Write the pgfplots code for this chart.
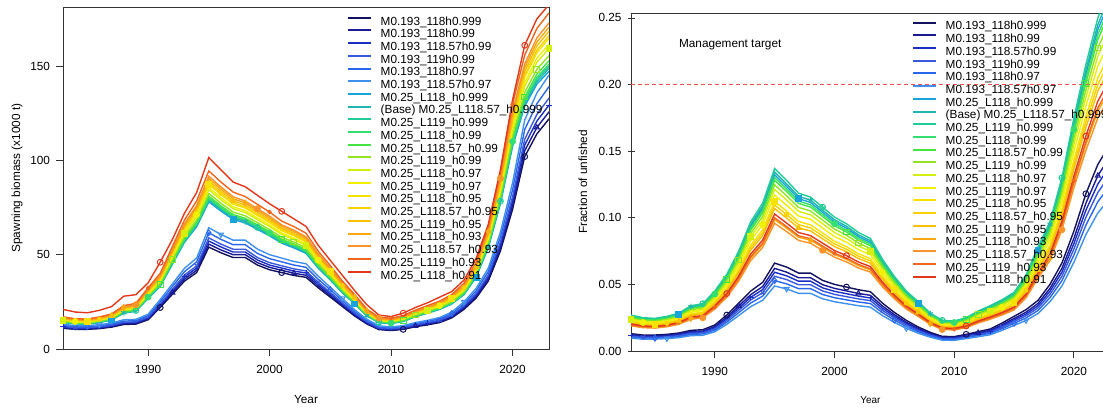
\documentclass[border=0pt]{standalone}
\usepackage{fontspec}
\setmainfont{Liberation Sans}
\usepackage{pgfplots}
\usepackage{pgfplotstable}
\pgfplotsset{compat=1.18}
\usetikzlibrary{plotmarks}

% run colours, dark blue through red
\definecolor{c1}{HTML}{12125E}
\definecolor{c2}{HTML}{1A1A92}
\definecolor{c3}{HTML}{1A2EC4}
\definecolor{c4}{HTML}{3A58DC}
\definecolor{c5}{HTML}{2A66EC}
\definecolor{c6}{HTML}{3E90EC}
\definecolor{c7}{HTML}{18A4DA}
\definecolor{c8}{HTML}{22B4AE}
\definecolor{c9}{HTML}{22CC98}
\definecolor{c10}{HTML}{34DE70}
\definecolor{c11}{HTML}{44E444}
\definecolor{c12}{HTML}{92E422}
\definecolor{c13}{HTML}{D4EE10}
\definecolor{c14}{HTML}{F0F000}
\definecolor{c15}{HTML}{F6E200}
\definecolor{c16}{HTML}{F8D200}
\definecolor{c17}{HTML}{F8C000}
\definecolor{c18}{HTML}{F8A810}
\definecolor{c19}{HTML}{F8942A}
\definecolor{c20}{HTML}{F0661C}
\definecolor{c21}{HTML}{E2381C}

% spawning biomass (x1000 t)
\pgfplotstableread{
yr s1 s2 s3 s4 s5 s6 s7 s8 s9 s10 s11 s12 s13 s14 s15 s16 s17 s18 s19 s20 s21
1983 11.0 11.3 11.7 12.0 12.5 13.1 14.1 14.3 14.4 14.5 14.7 14.9 15.3 15.5 15.8 16.0 16.2 16.4 16.6 17.1 21.0
1984 10.4 10.7 11.0 11.3 11.9 12.4 13.3 13.4 13.5 13.6 13.8 14.0 14.3 14.6 14.8 15.0 15.2 15.4 15.6 16.0 19.6
1985 10.4 10.7 11.0 11.3 11.9 12.4 13.2 13.3 13.4 13.5 13.7 13.9 14.2 14.4 14.7 14.9 15.1 15.3 15.5 15.9 19.2
1986 10.8 11.1 11.4 11.8 12.3 12.9 14.0 14.2 14.3 14.4 14.6 14.8 15.2 15.4 15.7 15.8 16.1 16.3 16.5 17.0 20.5
1987 11.6 11.9 12.3 12.6 13.2 13.8 15.4 15.6 15.7 15.8 16.0 16.3 16.7 16.9 17.2 17.4 17.6 17.9 18.1 18.6 22.5
1988 13.0 13.4 13.8 14.2 14.8 15.5 19.0 19.2 19.4 19.5 19.7 20.1 20.6 20.9 21.3 21.5 21.7 22.0 22.3 23.0 28.0
1989 13.2 13.6 14.0 14.4 15.0 15.7 20.0 20.2 20.4 20.5 20.7 21.1 21.6 21.9 22.3 22.6 22.9 23.2 23.5 24.2 28.8
1990 15.5 16.0 16.4 16.9 17.7 18.4 26.8 27.1 27.3 27.5 27.8 28.3 29.0 29.4 30.0 30.3 30.7 31.1 31.5 32.4 35.0
1991 22.0 22.7 23.3 24.0 25.1 26.2 33.2 33.5 33.8 34.0 34.4 35.0 35.9 36.4 37.1 37.4 37.9 38.4 38.9 40.1 46.0
1992 29.0 29.9 30.7 31.6 33.1 34.5 44.9 45.3 45.7 46.0 46.6 47.4 48.5 49.2 50.1 50.6 51.3 52.0 52.7 54.3 58.0
1993 36.0 37.1 38.2 39.2 41.0 42.8 56.6 57.1 57.6 58.0 58.7 59.7 61.2 62.1 63.2 63.8 64.7 65.5 66.4 68.4 72.0
1994 40.5 41.7 42.9 44.1 46.2 48.2 64.8 65.5 66.0 66.5 67.3 68.5 70.2 71.2 72.5 73.2 74.1 75.1 76.1 78.5 83.0
1995 54.0 55.6 57.2 58.9 61.6 64.3 78.0 78.8 79.4 80.0 81.0 82.4 84.4 85.6 87.2 88.0 89.2 90.4 91.6 94.4 101.5
1996 51.0 52.5 54.1 55.6 58.1 60.7 73.1 73.9 74.5 75.0 75.9 77.3 79.1 80.2 81.8 82.5 83.6 84.8 85.9 88.5 95.0
1997 48.5 50.0 51.4 52.9 55.3 57.7 68.7 69.4 70.0 70.5 71.3 72.6 74.4 75.4 76.8 77.6 78.6 79.7 80.7 83.2 88.5
1998 48.5 50.0 51.4 52.9 55.3 57.7 66.8 67.5 68.0 68.5 69.3 70.6 72.3 73.3 74.7 75.4 76.4 77.4 78.4 80.8 86.0
1999 44.5 45.8 47.2 48.5 50.7 53.0 63.4 64.0 64.5 65.0 65.8 67.0 68.6 69.5 70.8 71.5 72.5 73.5 74.4 76.7 81.5
2000 42.0 43.3 44.5 45.8 47.9 50.0 60.0 60.6 61.1 61.5 62.2 63.3 64.9 65.8 67.0 67.7 68.6 69.5 70.4 72.6 77.0
2001 40.5 41.7 42.9 44.1 46.2 48.2 56.1 56.6 57.1 57.5 58.2 59.2 60.7 61.5 62.7 63.3 64.1 65.0 65.8 67.8 73.0
2002 39.0 40.2 41.3 42.5 44.5 46.4 53.6 54.2 54.6 55.0 55.7 56.7 58.0 58.8 60.0 60.5 61.3 62.2 63.0 64.9 69.0
2003 38.0 39.1 40.3 41.4 43.3 45.2 50.7 51.2 51.6 52.0 52.6 53.6 54.9 55.6 56.7 57.2 58.0 58.8 59.5 61.4 65.0
2004 32.5 33.5 34.5 35.4 37.0 38.7 42.9 43.3 43.7 44.0 44.5 45.3 46.4 47.1 48.0 48.4 49.1 49.7 50.4 51.9 55.0
2005 27.5 28.3 29.2 30.0 31.4 32.7 36.6 36.9 37.2 37.5 38.0 38.6 39.6 40.1 40.9 41.3 41.8 42.4 42.9 44.2 47.0
2006 22.5 23.2 23.9 24.5 25.6 26.8 29.7 30.0 30.3 30.5 30.9 31.4 32.2 32.6 33.2 33.6 34.0 34.5 34.9 36.0 39.0
2007 17.5 18.0 18.6 19.1 20.0 20.8 23.9 24.1 24.3 24.5 24.8 25.2 25.8 26.2 26.7 27.0 27.3 27.7 28.1 28.9 31.0
2008 13.3 13.7 14.1 14.5 15.2 15.8 17.6 17.7 17.9 18.0 18.2 18.5 19.0 19.3 19.6 19.8 20.1 20.3 20.6 21.2 23.5
2009 10.3 10.6 10.9 11.2 11.7 12.3 13.9 14.1 14.2 14.3 14.5 14.7 15.1 15.3 15.6 15.7 15.9 16.2 16.4 16.9 18.0
2010 9.8 10.1 10.4 10.7 11.2 11.7 13.5 13.6 13.7 13.8 14.0 14.2 14.6 14.8 15.0 15.2 15.4 15.6 15.8 16.3 17.2
2011 10.4 10.7 11.0 11.3 11.9 12.4 14.6 14.8 14.9 15.0 15.2 15.5 15.8 16.1 16.4 16.5 16.7 17.0 17.2 17.7 19.0
2012 11.8 12.2 12.5 12.9 13.5 14.0 17.1 17.2 17.4 17.5 17.7 18.0 18.5 18.7 19.1 19.3 19.5 19.8 20.0 20.6 22.0
2013 12.8 13.2 13.6 14.0 14.6 15.2 19.0 19.2 19.4 19.5 19.7 20.1 20.6 20.9 21.3 21.5 21.7 22.0 22.3 23.0 24.5
2014 14.0 14.4 14.8 15.3 16.0 16.7 21.0 21.2 21.3 21.5 21.8 22.1 22.7 23.0 23.4 23.7 24.0 24.3 24.6 25.4 27.5
2015 16.5 17.0 17.5 18.0 18.8 19.6 23.9 24.1 24.3 24.5 24.8 25.2 25.8 26.2 26.7 27.0 27.3 27.7 28.1 28.9 30.5
2016 21.0 21.6 22.3 22.9 23.9 25.0 28.8 29.1 29.3 29.5 29.9 30.4 31.1 31.6 32.2 32.5 32.9 33.3 33.8 34.8 36.5
2017 27.0 27.8 28.6 29.4 30.8 32.1 38.0 38.4 38.7 39.0 39.5 40.2 41.1 41.7 42.5 42.9 43.5 44.1 44.7 46.0 48.0
2018 36.0 37.1 38.2 39.2 41.0 42.8 53.6 54.2 54.6 55.0 55.7 56.7 58.0 58.8 60.0 60.5 61.3 62.2 63.0 64.9 66.0
2019 52.0 53.6 55.1 56.7 59.3 61.9 77.0 77.8 78.4 79.0 79.9 81.4 83.3 84.5 86.1 86.9 88.1 89.3 90.5 93.2 95.0
2020 74.0 76.2 78.4 80.7 84.4 88.1 107.3 108.4 109.2 110.0 111.3 113.3 116.0 117.7 119.9 121.0 122.7 124.3 126.0 129.8 132.0
2021 102.0 105.1 108.1 111.2 116.3 121.4 128.7 130.0 131.1 132.0 133.6 136.0 139.3 141.2 143.9 145.2 147.2 149.2 151.1 155.8 161.0
2022 114.0 117.4 120.8 124.3 130.0 135.7 140.4 141.8 143.0 144.0 145.7 148.3 151.9 154.1 157.0 158.4 160.6 162.7 164.9 169.9 175.0
2023 122.0 125.7 129.3 133.0 139.1 145.2 147.2 148.7 149.9 151.0 152.8 155.5 159.3 161.6 164.6 166.1 168.4 170.6 172.9 178.2 182.5
}\ssbtab

% fraction of unfished, in thousandths
\pgfplotstableread{
yr s1 s2 s3 s4 s5 s6 s7 s8 s9 s10 s11 s12 s13 s14 s15 s16 s17 s18 s19 s20 s21
1983 13.0 12.2 11.6 11.1 10.4 9.6 26.1 26.5 27.0 25.7 25.2 24.6 23.9 23.1 22.1 21.6 21.1 19.4 18.9 19.7 20.3
1984 12.0 11.3 10.7 10.2 9.6 8.9 24.1 24.5 25.0 23.8 23.4 22.8 22.1 21.4 20.5 20.0 19.5 18.0 17.5 18.3 18.8
1985 12.0 11.3 10.7 10.2 9.6 8.9 23.6 24.0 24.5 23.3 22.9 22.3 21.7 20.9 20.1 19.6 19.1 17.6 17.2 17.9 18.4
1986 12.5 11.8 11.2 10.6 10.0 9.3 25.1 25.5 26.0 24.7 24.3 23.7 23.0 22.2 21.3 20.8 20.3 18.7 18.2 19.0 19.5
1987 13.5 12.7 12.1 11.5 10.8 10.0 27.5 27.9 28.5 27.1 26.6 25.9 25.2 24.4 23.4 22.8 22.2 20.5 20.0 20.8 21.4
1988 15.5 14.6 13.9 13.2 12.4 11.5 32.8 33.3 34.0 32.3 31.8 30.9 30.1 29.1 27.9 27.2 26.5 24.5 23.8 24.8 25.5
1989 16.0 15.0 14.3 13.6 12.8 11.8 34.3 34.8 35.5 33.7 33.2 32.3 31.4 30.4 29.1 28.4 27.7 25.6 24.9 25.9 26.6
1990 19.5 18.3 17.5 16.6 15.6 14.4 43.4 44.1 45.0 42.8 42.1 41.0 39.8 38.5 36.9 36.0 35.1 32.4 31.5 32.9 33.8
1991 27.0 25.4 24.2 23.0 21.6 20.0 55.5 56.4 57.5 54.6 53.8 52.3 50.9 49.2 47.2 46.0 44.9 41.4 40.3 42.0 43.1
1992 36.0 33.8 32.2 30.6 28.8 26.6 72.4 73.5 75.0 71.3 70.1 68.3 66.4 64.1 61.5 60.0 58.5 54.0 52.5 54.8 56.3
1993 45.0 42.3 40.3 38.3 36.0 33.3 93.6 95.1 97.0 92.2 90.7 88.3 85.8 82.9 79.5 77.6 75.7 69.8 67.9 70.8 72.8
1994 51.5 48.4 46.1 43.8 41.2 38.1 107.1 108.8 111.0 105.5 103.8 101.0 98.2 94.9 91.0 88.8 86.6 79.9 77.7 81.0 83.3
1995 66.0 62.0 59.1 56.1 52.8 48.8 132.2 134.3 137.0 130.2 128.1 124.7 121.2 117.1 112.3 109.6 106.9 98.6 95.9 100.0 102.8
1996 63.0 59.2 56.4 53.6 50.4 46.6 123.5 125.4 128.0 121.6 119.7 116.5 113.3 109.4 105.0 102.4 99.8 92.2 89.6 93.4 96.0
1997 58.5 55.0 52.4 49.7 46.8 43.3 114.4 116.1 118.5 112.6 110.8 107.8 104.9 101.3 97.2 94.8 92.4 85.3 83.0 86.5 88.9
1998 58.5 55.0 52.4 49.7 46.8 43.3 111.5 113.2 115.5 109.7 108.0 105.1 102.2 98.8 94.7 92.4 90.1 83.2 80.9 84.3 86.6
1999 53.0 49.8 47.4 45.1 42.4 39.2 104.2 105.8 108.0 102.6 101.0 98.3 95.6 92.3 88.6 86.4 84.2 77.8 75.6 78.8 81.0
2000 50.0 47.0 44.8 42.5 40.0 37.0 97.0 98.5 100.5 95.5 94.0 91.5 88.9 85.9 82.4 80.4 78.4 72.4 70.4 73.4 75.4
2001 48.0 45.1 43.0 40.8 38.4 35.5 92.2 93.6 95.5 90.7 89.3 86.9 84.5 81.7 78.3 76.4 74.5 68.8 66.9 69.7 71.6
2002 46.0 43.2 41.2 39.1 36.8 34.0 85.9 87.2 89.0 84.6 83.2 81.0 78.8 76.1 73.0 71.2 69.4 64.1 62.3 65.0 66.8
2003 44.5 41.8 39.8 37.8 35.6 32.9 81.5 82.8 84.5 80.3 79.0 76.9 74.8 72.2 69.3 67.6 65.9 60.8 59.2 61.7 63.4
2004 36.0 33.8 32.2 30.6 28.8 26.6 66.6 67.6 69.0 65.6 64.5 62.8 61.1 59.0 56.6 55.2 53.8 49.7 48.3 50.4 51.8
2005 29.0 27.3 26.0 24.7 23.2 21.5 54.0 54.9 56.0 53.2 52.4 51.0 49.6 47.9 45.9 44.8 43.7 40.3 39.2 40.9 42.0
2006 23.0 21.6 20.6 19.6 18.4 17.0 43.4 44.1 45.0 42.8 42.1 41.0 39.8 38.5 36.9 36.0 35.1 32.4 31.5 32.9 33.8
2007 18.0 16.9 16.1 15.3 14.4 13.3 35.7 36.3 37.0 35.2 34.6 33.7 32.7 31.6 30.3 29.6 28.9 26.6 25.9 27.0 27.8
2008 14.0 13.2 12.5 11.9 11.2 10.4 27.5 27.9 28.5 27.1 26.6 25.9 25.2 24.4 23.4 22.8 22.2 20.5 20.0 20.8 21.4
2009 11.0 10.3 9.8 9.4 8.8 8.1 22.2 22.5 23.0 21.9 21.5 20.9 20.4 19.7 18.9 18.4 17.9 16.6 16.1 16.8 17.3
2010 10.8 10.2 9.7 9.2 8.6 8.0 21.7 22.1 22.5 21.4 21.0 20.5 19.9 19.2 18.5 18.0 17.6 16.2 15.8 16.4 16.9
2011 12.5 11.8 11.2 10.6 10.0 9.3 24.1 24.5 25.0 23.8 23.4 22.8 22.1 21.4 20.5 20.0 19.5 18.0 17.5 18.3 18.8
2012 14.5 13.6 13.0 12.3 11.6 10.7 29.0 29.4 30.0 28.5 28.1 27.3 26.6 25.7 24.6 24.0 23.4 21.6 21.0 21.9 22.5
2013 16.5 15.5 14.8 14.0 13.2 12.2 32.8 33.3 34.0 32.3 31.8 30.9 30.1 29.1 27.9 27.2 26.5 24.5 23.8 24.8 25.5
2014 21.0 19.7 18.8 17.9 16.8 15.5 37.2 37.7 38.5 36.6 36.0 35.0 34.1 32.9 31.6 30.8 30.0 27.7 27.0 28.1 28.9
2015 26.0 24.4 23.3 22.1 20.8 19.2 42.5 43.1 44.0 41.8 41.1 40.0 38.9 37.6 36.1 35.2 34.3 31.7 30.8 32.1 33.0
2016 31.0 29.1 27.7 26.4 24.8 22.9 55.0 55.9 57.0 54.2 53.3 51.9 50.4 48.7 46.7 45.6 44.5 41.0 39.9 41.6 42.8
2017 38.0 35.7 34.0 32.3 30.4 28.1 75.3 76.4 78.0 74.1 72.9 71.0 69.0 66.7 64.0 62.4 60.8 56.2 54.6 56.9 58.5
2018 50.0 47.0 44.8 42.5 40.0 37.0 93.6 95.1 97.0 92.2 90.7 88.3 85.8 82.9 79.5 77.6 75.7 69.8 67.9 70.8 72.8
2019 66.0 62.0 59.1 56.1 52.8 48.8 125.5 127.4 130.0 123.5 121.6 118.3 115.1 111.2 106.6 104.0 101.4 93.6 91.0 94.9 97.5
2020 90.0 84.6 80.6 76.5 72.0 66.6 168.9 171.5 175.0 166.3 163.6 159.3 154.9 149.6 143.5 140.0 136.5 126.0 122.5 127.8 131.3
2021 118.0 110.9 105.6 100.3 94.4 87.3 207.5 210.7 215.0 204.3 201.0 195.7 190.3 183.8 176.3 172.0 167.7 154.8 150.5 157.0 161.3
2022 140.0 131.6 125.3 119.0 112.0 103.6 241.3 245.0 250.0 237.5 233.8 227.5 221.3 213.8 205.0 200.0 195.0 180.0 175.0 182.5 187.5
2023 155.0 145.7 138.7 131.8 124.0 114.7 262.5 266.6 272.0 258.4 254.3 247.5 240.7 232.6 223.0 217.6 212.2 195.8 190.4 198.6 204.0
}\fractab

\newcommand{\fs}{\fontsize{11.8}{13}\selectfont}

\pgfplotsset{
  ser/.style={line width=1.4pt, mark repeat=10, mark size=2.9pt,
    mark options={solid, line width=1pt}},
  s1/.style={ser, color=c1, mark=o, mark phase=9},
  s2/.style={ser, color=c2, mark=triangle, mark phase=10},
  s3/.style={ser, color=c3, mark=+, mark phase=1},
  s4/.style={ser, color=c4, mark=x, mark phase=2},
  s5/.style={ser, color=c5, mark=diamond, mark phase=3},
  s6/.style={ser, color=c6, mark=triangle, mark phase=4,
    mark options={solid, line width=1pt, rotate=180}},
  s7/.style={ser, color=c7, mark=square*, mark phase=5},
  s8/.style={ser, color=c8, mark=asterisk, mark phase=6},
  s9/.style={ser, color=c9, mark=oplus, mark phase=7},
  s10/.style={ser, color=c10, mark=*, mark phase=8},
  s11/.style={ser, color=c11, mark=square, mark phase=9},
  s12/.style={ser, color=c12, mark=square, mark phase=10},
  s13/.style={ser, color=c13, mark=square*, mark phase=1},
  s14/.style={ser, color=c14, mark=*, mark phase=2},
  s15/.style={ser, color=c15, mark=square*, mark phase=3},
  s16/.style={ser, color=c16, mark=*, mark size=2pt, mark phase=4},
  s17/.style={ser, color=c17, mark=triangle*, mark phase=5},
  s18/.style={ser, color=c18, mark=diamond*, mark phase=6},
  s19/.style={ser, color=c19, mark=*, mark phase=7},
  s20/.style={ser, color=c20, mark=*, mark size=1.7pt, mark phase=8},
  s21/.style={ser, color=c21, mark=o, mark phase=9},
  panel/.style={
    scale only axis, xmin=1983, xmax=2023, ymin=0,
    tick align=outside, major tick length=7pt,
    tick style={black!80, line width=0.8pt},
    axis line style={-, black!80, line width=0.8pt},
    xtick={1990,2000,2010,2020}, xticklabels={1990,2000,2010,2020},
    xtick pos=bottom, ytick pos=left,
    /pgf/number format/assume math mode=true,
    tick label style={font=\fs}, label style={font=\fs},
    xticklabel style={yshift=-6pt}, yticklabel style={xshift=-2.5pt},
    xlabel={Year},
    legend cell align=left,
    legend image code/.code={\draw[##1, mark=none, line width=2pt] (0pt,4.2pt) -- (23pt,4.2pt); \path (32pt,0pt);},
    legend style={draw=none, fill=none, inner sep=0pt, outer sep=0pt,
      row sep=2.1pt, font=\fs, anchor=north west,
      nodes={inner sep=0pt, text height=8.4pt, text depth=2.2pt}},
  },
}

\newcommand{\ser}[3]{\addplot[#1] table[x=yr, y=#1] {#2}; \addlegendentry{#3}}
\newcommand{\allruns}[1]{%
  \ser{s1}{#1}{M0.193\_118h0.999}
  \ser{s2}{#1}{M0.193\_118h0.99}
  \ser{s3}{#1}{M0.193\_118.57h0.99}
  \ser{s4}{#1}{M0.193\_119h0.99}
  \ser{s5}{#1}{M0.193\_118h0.97}
  \ser{s6}{#1}{M0.193\_118.57h0.97}
  \ser{s7}{#1}{M0.25\_L118\_h0.999}
  \ser{s8}{#1}{(Base) M0.25\_L118.57\_h0.999}
  \ser{s9}{#1}{M0.25\_L119\_h0.999}
  \ser{s10}{#1}{M0.25\_L118\_h0.99}
  \ser{s11}{#1}{M0.25\_L118.57\_h0.99}
  \ser{s12}{#1}{M0.25\_L119\_h0.99}
  \ser{s13}{#1}{M0.25\_L118\_h0.97}
  \ser{s14}{#1}{M0.25\_L119\_h0.97}
  \ser{s15}{#1}{M0.25\_L118\_h0.95}
  \ser{s16}{#1}{M0.25\_L118.57\_h0.95}
  \ser{s17}{#1}{M0.25\_L119\_h0.95}
  \ser{s18}{#1}{M0.25\_L118\_h0.93}
  \ser{s19}{#1}{M0.25\_L118.57\_h0.93}
  \ser{s20}{#1}{M0.25\_L119\_h0.93}
  \ser{s21}{#1}{M0.25\_L118\_h0.91}
}

\begin{document}
\begin{tikzpicture}
% spawning biomass
\begin{axis}[panel,
  at={(63pt,59pt)}, anchor=south west,
  width=486pt, height=342pt, ymax=181.3,
  ytick={0,50,100,150}, yticklabels={0,50,100,150},
  ylabel={Spawning biomass (x1000 t)},
  xlabel style={at={(axis description cs:0.5,-0.1491)}, anchor=center},
  ylabel style={at={(axis description cs:-0.0947,0.5)}, anchor=center},
  legend style={at={(axis description cs:0.5844,0.9719)}},
]
\allruns{\ssbtab}
\end{axis}

% fraction of unfished
\begin{axis}[panel,
  at={(631pt,57pt)}, anchor=south west,
  width=478.8pt, height=338pt, ymax=253.7,
  axis x line=box, axis y line=left,
  y axis line style={-},
  every outer y axis line/.append style={-},
  every inner y axis line/.append style={-},
  ytick={0,50,100,150,200,250},
  yticklabels={0.00,0.05,0.10,0.15,0.20,0.25},
  ylabel={Fraction of unfished},
  xlabel style={at={(axis description cs:0.5,-0.145)}, anchor=center},
  ylabel style={at={(axis description cs:-0.1003,0.5)}, anchor=center},
  legend style={at={(axis description cs:0.5869,0.9746)}},
]
\allruns{\fractab}
\addplot[forget plot, color=red!70!white, line width=0.7pt,
  dash pattern=on 4pt off 3pt] coordinates {(1983,200) (2023,200)};
\node[anchor=west, inner sep=0pt, font=\fs] at (axis cs:1987.0,229.7) {Management target};
\end{axis}

\pgfresetboundingbox
\path[use as bounding box] (0pt,0pt) rectangle (1103pt,408pt);
\end{tikzpicture}
\end{document}
